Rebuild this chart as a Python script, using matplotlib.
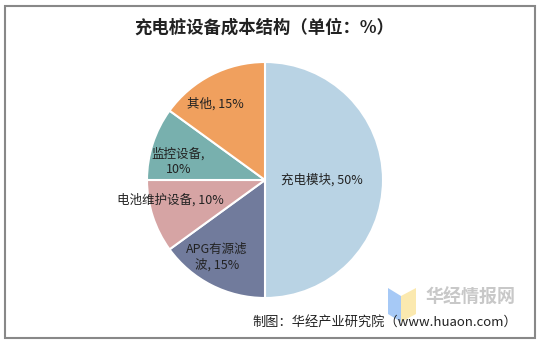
import numpy as np
import matplotlib
matplotlib.use('Agg')
import matplotlib.pyplot as plt
from matplotlib.patches import Rectangle, Polygon

plt.rcParams['font.family'] = ['Noto Sans CJK SC', 'DejaVu Sans']

# data
labels = ['充电模块', 'APG有源滤\n波', '电池维护设备', '监控设备,\n', '其他']
values = [50, 15, 10, 10, 15]
colors = ['#B9D3E4', '#717B9C', '#D6A4A4', '#78B0AE', '#F0A05E']
label_r = [0.48, 0.77, 0.82, 0.75, 0.77]
label_shift = [0, -5, -6, 6, 6]   # degrees, nudge off mid-angle

title = '充电桩设备成本结构（单位：%）'
source = '制图：华经产业研究院（www.huaon.com）'

fig = plt.figure(figsize=(5.42, 3.45), dpi=100)

# outer frame
fig.patches.append(Rectangle((5 / 542, 1 - 338 / 345), 530 / 542, 332 / 345,
                             transform=fig.transFigure, fill=False,
                             edgecolor='#888888', lw=1.5))

ax = fig.add_axes([147 / 542, 47 / 345, 236 / 542, 236 / 345])
wedges, _ = ax.pie(values, colors=colors, startangle=90, counterclock=False,
                   wedgeprops=dict(edgecolor='white', linewidth=1.5))
ax.set_xlim(-1, 1)
ax.set_ylim(-1, 1)
ax.set_aspect('equal')

for w, lab, v, r, s in zip(wedges, labels, values, label_r, label_shift):
    ang = np.deg2rad((w.theta1 + w.theta2) / 2 + s)
    if lab.endswith('\n'):
        txt = lab + '{}%'.format(v)
    else:
        txt = lab + ', {}%'.format(v)
    ax.text(r * np.cos(ang), r * np.sin(ang), txt, ha='center', va='center',
            fontsize=9, color='#222222', linespacing=1.3)

fig.text(264 / 542, 1 - 28 / 345, title, ha='center', va='center',
         fontsize=12.5, fontweight='bold', color='#222222')

# watermark
fig.patches.append(Polygon([(388 / 542, 1 - 288 / 345), (401 / 542, 1 - 296 / 345),
                            (401 / 542, 1 - 322 / 345), (388 / 542, 1 - 314 / 345)],
                           closed=True, transform=fig.transFigure,
                           facecolor='#9DC3F5', edgecolor='none', alpha=0.9))
fig.patches.append(Polygon([(401 / 542, 1 - 296 / 345), (416 / 542, 1 - 288 / 345),
                            (416 / 542, 1 - 314 / 345), (401 / 542, 1 - 322 / 345)],
                           closed=True, transform=fig.transFigure,
                           facecolor='#FBE7A6', edgecolor='none', alpha=0.9))
fig.text(470 / 542, 1 - 297 / 345, '华经情报网', ha='center', va='center',
         fontsize=13, fontweight='bold', color='#C8C8C8')

fig.text(517 / 542, 1 - 322 / 345, source, ha='right', va='center',
         fontsize=9.5, color='#222222')

fig.savefig('out.png', dpi=100)
